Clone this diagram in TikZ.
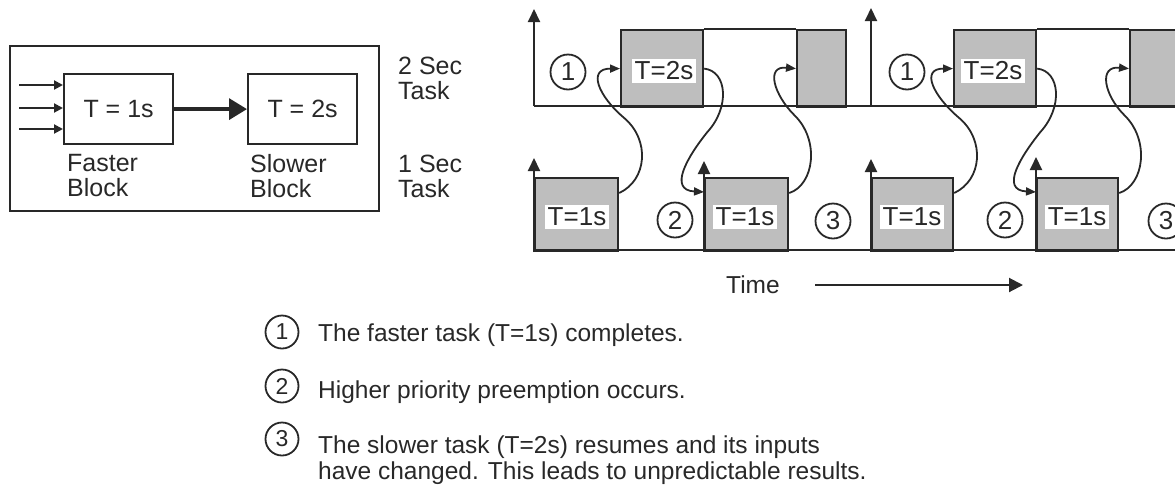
\documentclass[tikz,border=0pt]{standalone}
\usepackage{fontspec}
\setmainfont{Liberation Sans}
\usetikzlibrary{arrows.meta,calc}
\definecolor{ln}{RGB}{40,40,40}
\definecolor{gfill}{RGB}{190,190,190}
\begin{document}
\begin{tikzpicture}[x=1pt,y=-1pt,
  every node/.style={text=ln},
  wbox/.style={draw=ln, line width=2.2pt, inner sep=0pt, anchor=north west, font=\fontsize{25}{25}\selectfont},
  gbox/.style={draw=ln, fill=gfill, line width=2.2pt, inner sep=0pt, anchor=north west},
  boxlab/.style={fill=white, inner sep=2.5pt, font=\fontsize{26}{26}\selectfont},
  tnum/.style={circle, draw=ln, line width=1.8pt, minimum size=35pt, inner sep=0pt, font=\fontsize{26}{26}\selectfont},
  lnum/.style={circle, draw=ln, line width=1.8pt, minimum size=33pt, inner sep=0pt, font=\fontsize{23}{23}\selectfont},
  plain/.style={inner sep=0pt, align=left, font=\fontsize{25}{25}\selectfont},
  legtxt/.style={inner sep=0pt, align=left, font=\fontsize{24.5}{26}\selectfont},
  axis/.style={draw=ln, line width=2pt, -{Triangle[length=13pt,width=12pt]}},
  baseln/.style={draw=ln, line width=2.4pt},
  curv/.style={draw=ln, line width=1.8pt, -{Triangle[length=10pt,width=8pt]}},
  inarr/.style={draw=ln, line width=2pt, -{Triangle[length=9pt,width=9pt]}},
  bigarr/.style={draw=ln, line width=3.4pt, -{Triangle[length=18pt,width=21pt]}},
  timearr/.style={draw=ln, line width=2pt, -{Triangle[length=14pt,width=14pt]}}
]
\useasboundingbox (0,0) rectangle (1175,491);
\clip (0,0) rectangle (1175,491);

% ---------------- left block diagram ----------------
\node[wbox, minimum width=369pt, minimum height=165pt] (outer) at (9,45) {};
\node[wbox, minimum width=109pt, minimum height=70pt] (fb) at (63,73) {T = 1s};
\node[wbox, minimum width=109pt, minimum height=70pt] (sb) at (247,73) {T = 2s};
\coordinate (in1) at (19,85);
\coordinate (in2) at (19,108);
\coordinate (in3) at (19,129);
\draw[inarr] (in1) -- (in1 -| fb.west);
\draw[inarr] (in2) -- (in2 -| fb.west);
\draw[inarr] (in3) -- (in3 -| fb.west);
\draw[bigarr] (fb.east) -- (sb.west);
\node[plain, anchor=north west] (fbl) at (67,154) {Faster\\Block};
\node[plain, anchor=north west] (sbl) at (250,154) {Slower\\Block};
\node[plain, anchor=north west] (t2lab) at (398,57) {2 Sec\\Task};
\node[plain, anchor=north west] (t1lab) at (398,155) {1 Sec\\Task};

% ---------------- timeline ----------------
% upper (2 s task) boxes
\node[gbox, minimum width=82pt, minimum height=77pt] (u1) at (620,29) {};
\node[gbox, minimum width=49pt, minimum height=77pt] (u2) at (796,29) {};
\node[gbox, minimum width=82pt, minimum height=77pt] (u3) at (953,29) {};
\node[gbox, minimum width=82pt, minimum height=77pt] (u4) at (1129,29) {};
\draw[ln, line width=2.2pt] (u1.north east) -- (u2.north west);
\draw[ln, line width=2.2pt] (u3.north east) -- (u4.north west);
% lower (1 s task) boxes
\node[gbox, minimum width=83pt, minimum height=73pt] (l1) at (534,177) {};
\node[gbox, minimum width=83pt, minimum height=73pt] (l2) at (704,177) {};
\node[gbox, minimum width=81pt, minimum height=73pt] (l3) at (871,177) {};
\node[gbox, minimum width=81pt, minimum height=73pt] (l4) at (1036,177) {};

% baselines and axes
\coordinate (ub0) at (534,106);
\coordinate (ub1) at (1180,106);
\coordinate (lb0) at (534,250);
\coordinate (lb1) at (1180,250);
\coordinate (ta1) at (534,9);
\coordinate (tb0) at (871,106);
\coordinate (tb1) at (871,8);
\draw[baseln] (ub0) -- (ub1);
\draw[baseln] (lb0) -- (lb1);
\draw[axis] (ub0) -- (ta1);
\draw[axis] (tb0) -- (tb1);
\draw[axis] (l1.south west) -- ($(l1.north west)+(0,-19)$);
\draw[axis] (l2.south west) -- ($(l2.north west)+(0,-16)$);
\draw[axis] (l3.south west) -- ($(l3.north west)+(0,-18)$);
\draw[axis] (l4.south west) -- ($(l4.north west)+(0,-20)$);

% box labels
\node[boxlab] (u1t) at (664,71) {T=2s};
\node[boxlab] (u3t) at (993,71) {T=2s};
\node[boxlab] (l1t) at (577,217) {T=1s};
\node[boxlab] (l2t) at (745,217) {T=1s};
\node[boxlab] (l3t) at (912,217) {T=1s};
\node[boxlab] (l4t) at (1077,217) {T=1s};

% event circles
\node[tnum] (c1a) at (568,72) {1};
\node[tnum] (c2a) at (675,220) {2};
\node[tnum] (c3a) at (833,221) {3};
\node[tnum] (c1b) at (907,72) {1};
\node[tnum] (c2b) at (1005,220) {2};
\node[tnum] (c3b) at (1166,221) {3};

% curved hand-over arrows, period 1
\draw[curv] ($(l1.north east)+(0,16)$) .. controls +(28,-13) and +(26,22) .. ($(l1.north east)+(5,-59)$)
  .. controls +(-26,-22) and +(-33,0) .. (u1.west);
\draw[curv] (u1.east) .. controls +(23,2.5) and +(23,-25) .. ($(u1.south east)+(3,24)$)
  .. controls +(-20,25) and +(-36,-2) .. ($(l2.north west)+(0,15)$);
\draw[curv] ($(l2.north east)+(0,16)$) .. controls +(25,-8) and +(26,25) .. ($(l2.north east)+(5,-62)$)
  .. controls +(-20,-20) and +(-31,-3) .. (u2.west);
% period 2
\draw[curv] ($(l3.north east)+(0,16)$) .. controls +(28,-13) and +(26,22) .. ($(l3.north east)+(5,-59)$)
  .. controls +(-26,-22) and +(-33,0) .. (u3.west);
\draw[curv] (u3.east) .. controls +(23,2.5) and +(23,-25) .. ($(u3.south east)+(3,24)$)
  .. controls +(-20,25) and +(-36,-2) .. ($(l4.north west)+(0,15)$);
\draw[curv] ($(l4.north east)+(0,16)$) .. controls +(25,-8) and +(26,25) .. ($(l4.north east)+(5,-62)$)
  .. controls +(-20,-20) and +(-31,-3) .. (u4.west);

% time axis
\node[inner sep=0pt, font=\fontsize{24.5}{24.5}\selectfont] (time) at (753,285) {Time};
\coordinate (ts) at (815,285);
\coordinate (te) at (1023,285);
\draw[timearr] (ts) -- (te);

% ---------------- legend ----------------
\node[lnum] (k1) at (282,332) {1};
\node[lnum] (k2) at (282,386) {2};
\node[lnum] (k3) at (282,439) {3};
\node[legtxt, anchor=base west] (k1t) at (318,341) {The faster task (T=1s) completes.};
\node[legtxt, anchor=base west] (k2t) at (318,398) {Higher priority preemption occurs.};
\node[legtxt, anchor=north west] (k3t) at (318,436) {The slower task (T=2s) resumes and its inputs\\have changed. This leads to unpredictable results.};
\end{tikzpicture}
\end{document}
